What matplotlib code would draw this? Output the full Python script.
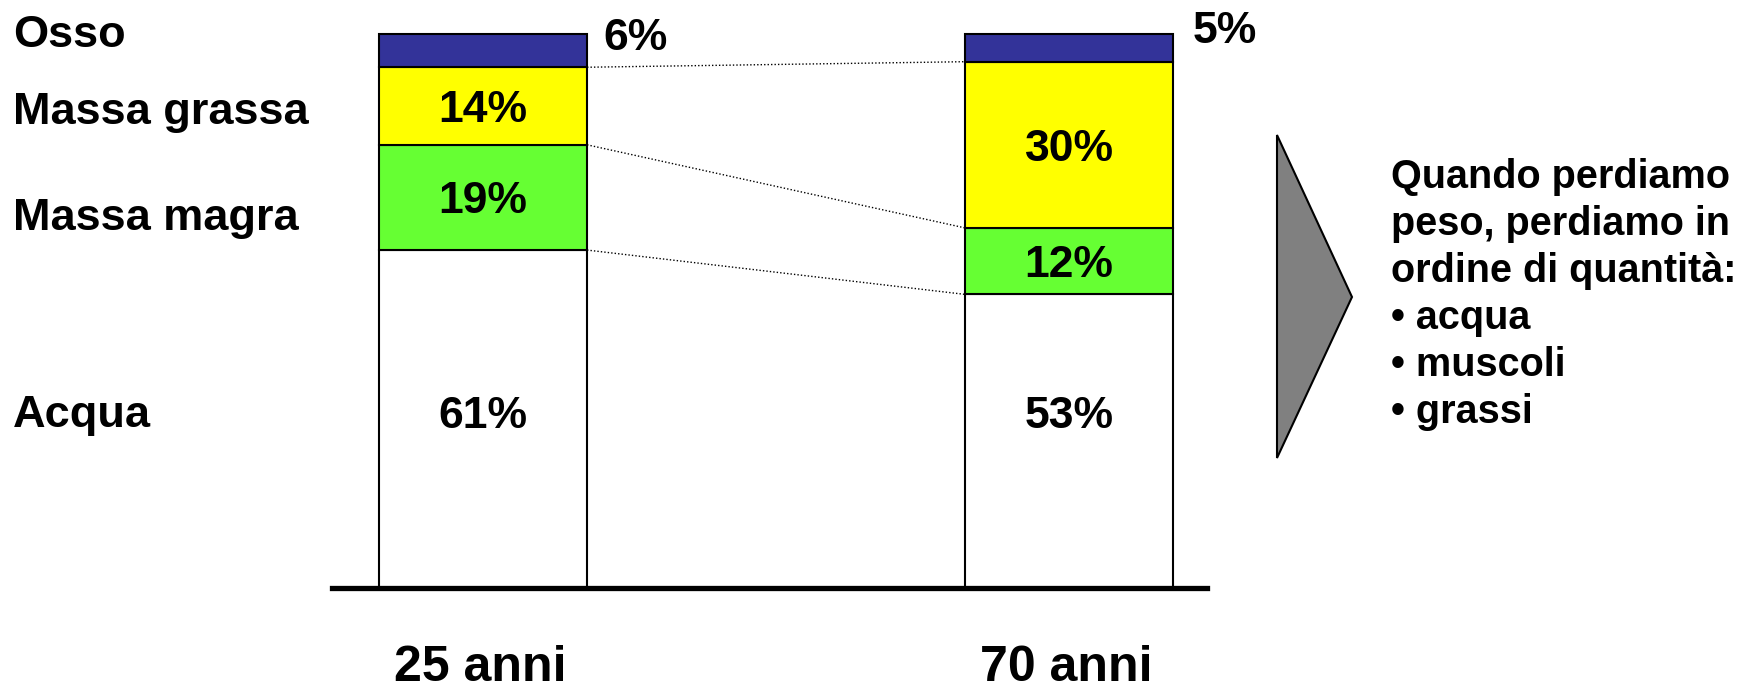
import numpy as np
import matplotlib.pyplot as plt
from matplotlib.patches import Polygon
import matplotlib.transforms as mtransforms

plt.rcParams['font.family'] = ['Liberation Sans', 'DejaVu Sans']
plt.rcParams['font.weight'] = 'bold'

# dati
eta = ["25 anni", "70 anni"]
componenti = ["Acqua", "Massa magra", "Massa grassa", "Osso"]
valori_25 = [61, 19, 14, 6]
valori_70 = [53, 12, 30, 5]
colori = ["#FFFFFF", "#66FF33", "#FFFF00", "#333399"]
punti_elenco = ["acqua", "muscoli", "grassi"]

W, H = 1752, 688
PX = 5.54  # pixel per punto percentuale
fig = plt.figure(figsize=(W / 100, H / 100), dpi=100)
ax = fig.add_axes([0, 0, 1, 1])
ax.set_xlim(-483 / 586, (W - 483) / 586)
ax.set_ylim(-100 / PX, (H - 100) / PX)
ax.axis('off')

def fy(ypx):
    return 1 - ypx / H

x = np.arange(len(eta))
larg = 0.355
tabella = np.array([valori_25, valori_70])
base = np.zeros(len(eta))
for j, comp in enumerate(componenti):
    ax.bar(x, tabella[:, j], larg, bottom=base, color=colori[j],
           edgecolor='black', linewidth=1.5, zorder=3)
    base += tabella[:, j]

# etichette percentuali
cum = np.cumsum(tabella, axis=1)
for i in range(len(eta)):
    for j in range(3):
        if j == 0:
            yv = 160 / PX
        else:
            yv = cum[i, j] - tabella[i, j] / 2 - 16 / PX
        ax.text(x[i], yv, f"{tabella[i, j]}%", ha='center', va='baseline',
                fontsize=32, fontweight='bold', zorder=4)

# osso: fuori dalla barra
fig.text(603 / W, fy(50), f"{valori_25[3]}%", ha='left', va='baseline',
         fontsize=32, fontweight='bold')
fig.text(1193 / W, fy(43), f"{valori_70[3]}%", ha='left', va='baseline',
         fontsize=32, fontweight='bold')

# linee tratteggiate di collegamento
for j in range(3):
    ax.plot([x[0] + larg / 2, x[1] - larg / 2], [cum[0, j], cum[1, j]],
            color='black', linestyle=(0, (1, 1.5)), linewidth=1, zorder=2)

# linea di base
ax.axhline(0, xmin=332 / W, xmax=1207 / W, color='black', linewidth=3.8, zorder=5)

# etichette asse x
trans = mtransforms.blended_transform_factory(ax.transData, fig.transFigure)
for i, lab in enumerate(eta):
    ax.text(x[i] - 0.005, fy(681), lab, transform=trans, ha='center',
            va='baseline', fontsize=36, fontweight='bold')

# etichette a sinistra
baseline_sx = [427, 230, 124, 47]
for comp, b in zip(componenti, baseline_sx):
    fig.text(13 / W, fy(b), comp, ha='left', va='baseline', fontsize=32.5,
             fontweight='bold')

# freccia grigia
tri = Polygon([(1277 / W, fy(135)), (1352 / W, fy(297)), (1277 / W, fy(458))],
              closed=True, facecolor='#808080', edgecolor='black', linewidth=1.5,
              transform=fig.transFigure)
fig.patches.append(tri)

# testo a destra
righe = ["Quando perdiamo", "peso, perdiamo in", "ordine di quantità:"]
righe += ["• " + p for p in punti_elenco]
for k, r in enumerate(righe):
    fig.text(1391 / W, fy(188 + 47 * k), r, ha='left', va='baseline',
             fontsize=28.5, fontweight='bold')

plt.savefig("out.png", dpi=100)
